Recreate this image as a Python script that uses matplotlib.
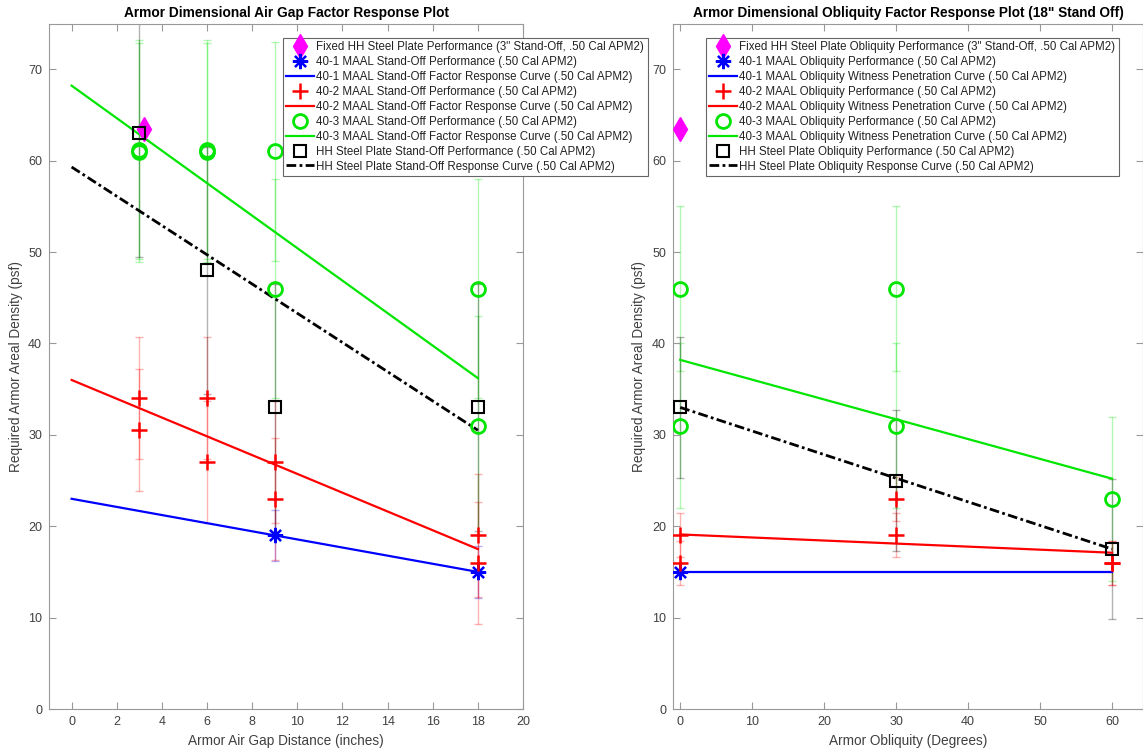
import matplotlib.pyplot as plt

plt.rcParams['font.family'] = ['Liberation Sans', 'DejaVu Sans']

# ---- stand-off (air gap) data, psf ----
gap_fixed_x = [3.2]
gap_fixed_y = [63.5]

gap_401_x = [9, 18]
gap_401_y = [19, 15]
gap_401_err = 2.8

gap_402_x = [3, 3, 6, 6, 9, 9, 18, 18]
gap_402_y = [34, 30.5, 34, 27, 27, 23, 19, 16]
gap_402_err = 6.7

gap_403_x = [3, 3, 6, 6, 9, 9, 18, 18]
gap_403_y = [60.9, 61.2, 60.9, 61.2, 61, 46, 46, 31]
gap_403_err = 12

gap_hh_x = [3, 6, 9, 18]
gap_hh_y = [63, 48, 33, 33]
gap_hh_err = 13.5

gap_fit_x = [0, 18]
gap_fit_401 = [23, 15]
gap_fit_402 = [36, 17.5]
gap_fit_403 = [68.2, 36.2]
gap_fit_hh = [59.3, 30.5]

# ---- obliquity data, psf ----
obl_fixed_x = [0]
obl_fixed_y = [63.5]

obl_401_x = [0]
obl_401_y = [15]
obl_401_err = 0

obl_402_x = [0, 0, 30, 30, 60, 60]
obl_402_y = [19, 16, 23, 19, 16, 16]
obl_402_err = 2.4

obl_403_x = [0, 0, 30, 30, 60]
obl_403_y = [46, 31, 46, 31, 23]
obl_403_err = 9

obl_hh_x = [0, 30, 60]
obl_hh_y = [33, 25, 17.5]
obl_hh_err = 7.7

obl_fit_x = [0, 60]
obl_fit_401 = [15, 15]
obl_fit_402 = [19.1, 17.1]
obl_fit_403 = [38.2, 25.2]
obl_fit_hh = [33, 17.5]

gap_labels = [
    'Fixed HH Steel Plate Performance (3" Stand-Off, .50 Cal APM2)',
    '40-1 MAAL Stand-Off Performance (.50 Cal APM2)',
    '40-1 MAAL Stand-Off Factor Response Curve (.50 Cal APM2)',
    '40-2 MAAL Stand-Off Performance (.50 Cal APM2)',
    '40-2 MAAL Stand-Off Factor Response Curve (.50 Cal APM2)',
    '40-3 MAAL Stand-Off Performance (.50 Cal APM2)',
    '40-3 MAAL Stand-Off Factor Response Curve (.50 Cal APM2)',
    'HH Steel Plate Stand-Off Performance (.50 Cal APM2)',
    'HH Steel Plate Stand-Off Response Curve (.50 Cal APM2)',
]
obl_labels = [
    'Fixed HH Steel Plate Obliquity Performance (3" Stand-Off, .50 Cal APM2)',
    '40-1 MAAL Obliquity Performance (.50 Cal APM2)',
    '40-1 MAAL Obliquity Witness Penetration Curve (.50 Cal APM2)',
    '40-2 MAAL Obliquity Performance (.50 Cal APM2)',
    '40-2 MAAL Obliquity Witness Penetration Curve (.50 Cal APM2)',
    '40-3 MAAL Obliquity Performance (.50 Cal APM2)',
    '40-3 MAAL Obliquity Witness Penetration Curve (.50 Cal APM2)',
    'HH Steel Plate Obliquity Performance (.50 Cal APM2)',
    'HH Steel Plate Obliquity Response Curve (.50 Cal APM2)',
]

BLUE = '#0000ff'
RED = '#ff0000'
GREEN = '#00e600'
MAG = '#ff00ff'
TXT = '#404040'


def panel(ax, fixed, s401, s402, s403, shh, fit_x, fits):
    # error bars first, faint
    for (x, y, e), c in zip([s401, s402, s403, shh], [BLUE, RED, GREEN, 'k']):
        if e > 0:
            ax.errorbar(x, y, yerr=e, fmt='none', ecolor=c, elinewidth=1,
                        capsize=3, alpha=0.3, zorder=1)
    h = []
    h += ax.plot(fixed[0], fixed[1], 'd', color=MAG, ms=12, ls='none', zorder=4)
    h += ax.plot(s401[0], s401[1], marker=(8, 2, 0), color=BLUE, ms=11, mew=1.6,
                 ls='none', zorder=4)
    h += ax.plot(fit_x, fits[0], color=BLUE, lw=1.6, zorder=3)
    h += ax.plot(s402[0], s402[1], '+', color=RED, ms=11, mew=1.8, ls='none', zorder=4)
    h += ax.plot(fit_x, fits[1], color=RED, lw=1.6, zorder=3)
    h += ax.plot(s403[0], s403[1], 'o', mfc='none', mec=GREEN, ms=10, mew=2,
                 ls='none', zorder=4)
    h += ax.plot(fit_x, fits[2], color=GREEN, lw=1.6, zorder=3)
    h += ax.plot(shh[0], shh[1], 's', mfc='none', mec='k', ms=9, mew=1.5,
                 ls='none', zorder=4)
    h += ax.plot(fit_x, fits[3], color='k', lw=2, dashes=(3.5, 1.2, 1, 1.2), zorder=3)
    ax.set_ylim(0, 75)
    ax.set_yticks(range(0, 71, 10))
    ax.tick_params(direction='in', top=True, right=True, length=5, labelsize=9,
                   colors='#999999', labelcolor=TXT, pad=5)
    for sp in ax.spines.values():
        sp.set_color('#999999')
    ax.set_ylabel('Required Armor Areal Density (psf)', fontsize=9.8, color=TXT)
    return h


fig = plt.figure(figsize=(11.43, 7.51), dpi=100)
ax1 = fig.add_axes([0.0429, 0.0559, 0.4147, 0.9128])
ax2 = fig.add_axes([0.5888, 0.0559, 0.4112, 0.9128])

h1 = panel(ax1, (gap_fixed_x, gap_fixed_y), (gap_401_x, gap_401_y, gap_401_err),
           (gap_402_x, gap_402_y, gap_402_err), (gap_403_x, gap_403_y, gap_403_err),
           (gap_hh_x, gap_hh_y, gap_hh_err), gap_fit_x,
           [gap_fit_401, gap_fit_402, gap_fit_403, gap_fit_hh])
ax1.set_xlim(-1, 20)
ax1.set_xticks(range(0, 21, 2))
ax1.set_xlabel('Armor Air Gap Distance (inches)', fontsize=9.8, color=TXT)
ax1.set_title('Armor Dimensional Air Gap Factor Response Plot', fontsize=9.9,
              fontweight='bold', pad=5)

h2 = panel(ax2, (obl_fixed_x, obl_fixed_y), (obl_401_x, obl_401_y, obl_401_err),
           (obl_402_x, obl_402_y, obl_402_err), (obl_403_x, obl_403_y, obl_403_err),
           (obl_hh_x, obl_hh_y, obl_hh_err), obl_fit_x,
           [obl_fit_401, obl_fit_402, obl_fit_403, obl_fit_hh])
ax2.set_xlim(-1, 64.3)
ax2.set_xticks(range(0, 61, 10))
ax2.set_xlabel('Armor Obliquity (Degrees)', fontsize=9.8, color=TXT)
ax2.set_title('Armor Dimensional Obliquity Factor Response Plot (18" Stand Off)',
              fontsize=9.8, fontweight='bold', pad=5)

for h, lab, x0 in [(h1, gap_labels, 283), (h2, obl_labels, 706)]:
    leg = fig.legend(h, lab, loc='upper left', bbox_to_anchor=(x0 / 1143, 1 - 38 / 751),
                     fontsize=8.3, frameon=True, fancybox=False, framealpha=1,
                     edgecolor='#666666', borderpad=0.3, labelspacing=0.25,
                     handlelength=2.35, handletextpad=0.25, borderaxespad=0)
    leg.get_frame().set_linewidth(0.8)
    for t in leg.get_texts():
        t.set_color('#222222')

fig.savefig('out.png', dpi=100)
